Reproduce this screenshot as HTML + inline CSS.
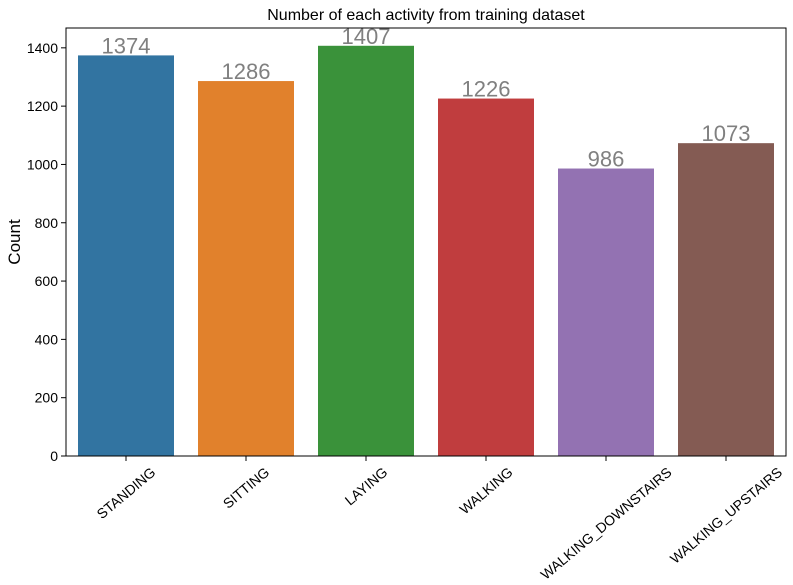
<!DOCTYPE html>
<html><head><meta charset="utf-8"><style>
body{margin:0;background:#fff;}
svg{font-family:"Liberation Sans","DejaVu Sans",sans-serif;}
</style></head><body>
<svg id="chart" width="793" height="580"></svg>
<script>
const categories=["STANDING","SITTING","LAYING","WALKING","WALKING_DOWNSTAIRS","WALKING_UPSTAIRS"];
const counts=[1374,1286,1407,1226,986,1073];
const yTicks=[0,200,400,600,800,1000,1200,1400];
const colors=["#3274a1","#e1812c","#3a923a","#c03d3e","#9372b2","#845b53"];
const NS="http://www.w3.org/2000/svg";
const svg=document.getElementById('chart');
const L=66,R=786,T=28,B=456,Y0=0,Y1=1468;
const band=(R-L)/categories.length;
function y(v){return B-(v-Y0)/(Y1-Y0)*(B-T);}
function x(i){return L+band*i+band/2;}
function mk(tag,attrs,text){const e=document.createElementNS(NS,tag);for(const k in attrs)e.setAttribute(k,attrs[k]);if(text!==undefined)e.textContent=text;svg.appendChild(e);return e;}
let t=mk('text',{x:(L+R)/2,y:20,'text-anchor':'middle','font-size':16,fill:'#000'},'Number of each activity from training dataset');


const s=Math.sin(40*Math.PI/180),co=Math.cos(40*Math.PI/180);
categories.forEach((c,i)=>{
  const bw=band*0.8;
  const r=mk('rect',{x:x(i)-bw/2,y:y(counts[i]),width:bw,height:y(0)-y(counts[i]),fill:colors[i]});
  
  
  const v=mk('text',{x:x(i),y:y(counts[i])-2,'text-anchor':'middle','font-size':22,fill:'#808080'},counts[i]);
  
  
  mk('line',{x1:x(i),x2:x(i),y1:B,y2:B+5,stroke:'#000','stroke-width':1});
  const tl=mk('text',{x:0,y:0,'text-anchor':'middle','font-size':14,fill:'#000'},c);
  const w=tl.getComputedTextLength(),h=13;
  const cy=B+9+(w*s+h*co)/2;
  tl.setAttribute('transform',`translate(${x(i)} ${cy}) rotate(-40) translate(0 5)`);
  
  
});
yTicks.forEach(v=>{
  mk('line',{x1:L-5,x2:L,y1:y(v),y2:y(v),stroke:'#000','stroke-width':1});
  const tl=mk('text',{x:L-8,y:y(v)+5,'text-anchor':'end','font-size':14,fill:'#000'},v);
  
  
});
const fr=mk('rect',{x:L,y:T,width:R-L,height:B-T,fill:'none',stroke:'#000','stroke-width':1});


const yt=mk('text',{x:20,y:(T+B)/2,'text-anchor':'middle','font-size':17,fill:'#000',transform:`rotate(-90 20 ${(T+B)/2})`},'Count');


</script>
</body></html>
